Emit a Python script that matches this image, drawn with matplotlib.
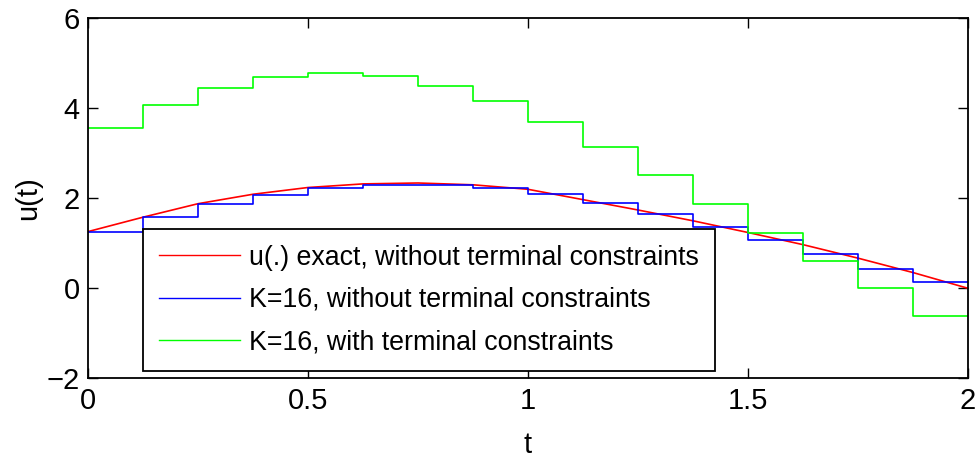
import matplotlib
matplotlib.use("Agg")
import matplotlib.pyplot as plt

plt.rcParams['font.family'] = ['Liberation Sans', 'DejaVu Sans']

# Data
t_exact = [0.0, 0.125, 0.25, 0.375, 0.5, 0.625, 0.75, 0.875, 1.0,
           1.125, 1.25, 1.375, 1.5, 1.625, 1.75, 1.875, 2.0]
u_exact = [1.26, 1.58, 1.88, 2.09, 2.24, 2.32, 2.34, 2.30, 2.20,
           1.97, 1.74, 1.50, 1.24, 0.97, 0.67, 0.35, 0.0]
t_edges = [0.0, 0.125, 0.25, 0.375, 0.5, 0.625, 0.75, 0.875, 1.0,
           1.125, 1.25, 1.375, 1.5, 1.625, 1.75, 1.875, 2.0]
u_free = [1.26, 1.59, 1.87, 2.07, 2.22, 2.30, 2.30, 2.23,
          2.10, 1.90, 1.65, 1.37, 1.07, 0.76, 0.44, 0.14]
u_term = [3.57, 4.08, 4.46, 4.70, 4.78, 4.72, 4.50, 4.16,
          3.69, 3.15, 2.52, 1.88, 1.24, 0.61, 0.01, -0.61]
labels = ['u(.) exact, without terminal constraints',
          'K=16, without terminal constraints',
          'K=16, with terminal constraints']
xticks = [0, 0.5, 1, 1.5, 2]
xticklabels = ['0', '0.5', '1', '1.5', '2']
yticks = [-2, 0, 2, 4, 6]
yticklabels = ['\u22122', '0', '2', '4', '6']

fig = plt.figure(figsize=(9.77, 4.62), dpi=100)
ax = fig.add_axes([88/977, 1-378.3/462, 880/977, 360/462])

lw = 1.2
ax.plot(t_exact, u_exact, color=(1, 0, 0), lw=lw, label=labels[0])
ax.step(t_edges, u_free + [u_free[-1]], where='post', color=(0, 0, 1), lw=lw, label=labels[1])
ax.step(t_edges, u_term + [u_term[-1]], where='post', color=(0, 1, 0), lw=lw, label=labels[2])

ax.set_xlim(0, 2)
ax.set_ylim(-2, 6)
ax.set_xticks(xticks)
ax.set_xticklabels(xticklabels)
ax.set_yticks(yticks)
ax.set_yticklabels(yticklabels)
ax.tick_params(direction='in', length=7, width=1.0, labelsize=21, top=True, right=True, pad=6)
for s in ax.spines.values():
    s.set_linewidth(1.3)

ax.set_xlabel('t', fontsize=21, labelpad=12)
ax.set_ylabel('u(t)', fontsize=21, labelpad=3)

leg = ax.legend(loc='lower left', bbox_to_anchor=(0.0625, 0.02), fontsize=19.3,
                frameon=True, fancybox=False, borderaxespad=0, handlelength=3.0,
                handletextpad=0.37, labelspacing=0.6, borderpad=0.6)
leg.get_frame().set_edgecolor('black')
leg.get_frame().set_linewidth(1.3)
leg.get_frame().set_alpha(1)
for h in leg.get_lines():
    h.set_linewidth(1.0)

fig.savefig('out.png', dpi=100)
